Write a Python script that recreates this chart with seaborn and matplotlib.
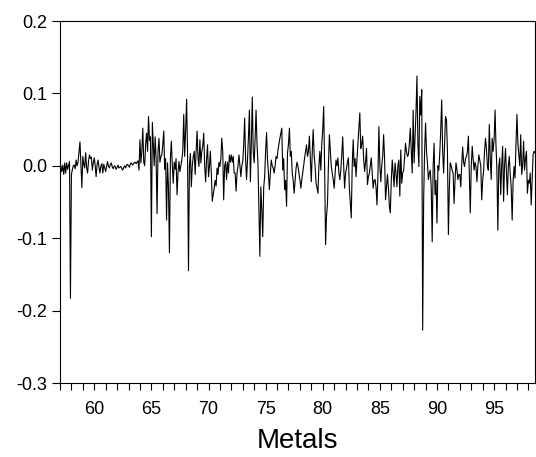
import matplotlib
matplotlib.use("Agg")
import matplotlib.pyplot as plt
import matplotlib.dates as mdates
import numpy as np
import pandas as pd
import seaborn as sns

# monthly metals returns (1957M01 onwards)
metals_57_59 = [
    -0.022, 0.0, -0.008, 0.001, -0.012, 0.004, -0.01, 0.004, -0.005, 0.0, 0.006, -0.183,
    -0.012, -0.005, 0.0, 0.001, -0.004, 0.008, 0.0, 0.005, 0.02, 0.033, 0.0, -0.03,
    0.013, 0.002, -0.003, 0.018, -0.002, -0.01, 0.006, 0.015, 0.01, 0.012, -0.006, 0.004,
]
metals_60s = [
    0.011, 0.0, -0.015, 0.002, 0.008, -0.002, -0.01, 0.0, 0.003, -0.01, 0.002, -0.003,
    -0.008, 0.0, 0.006, -0.001, -0.003, 0.002, 0.004, -0.002, -0.004, 0.0, -0.001, -0.005,
    -0.002, 0.001, -0.003, -0.002, -0.001, -0.004, -0.006, -0.002, 0.0, -0.003, 0.001, 0.002,
    0.0, -0.002, 0.003, 0.004, 0.001, 0.002, 0.004, 0.005, 0.003, 0.005, 0.007, -0.006,
    0.036, 0.004, 0.02, 0.052, 0.005, 0.0, 0.03, 0.045, 0.02, 0.068, 0.035, 0.04,
    -0.098, 0.06, 0.03, 0.0, 0.04, 0.01, -0.066, 0.02, 0.038, 0.005, 0.013, 0.015,
    0.03, 0.048, -0.005, 0.01, -0.075, 0.004, -0.03, -0.12, 0.01, 0.034, 0.0, -0.024,
    0.005, -0.005, 0.01, -0.04, -0.01, 0.006, -0.008, 0.0, 0.008, 0.02, 0.071, 0.013,
    0.05, 0.092, 0.02, -0.145, 0.0, 0.017, -0.029, 0.0, 0.013, 0.02, -0.012, 0.02,
    0.048, 0.01, -0.001, 0.036, 0.004, 0.02, 0.027, 0.045, 0.0, -0.022, 0.01, 0.029,
]
metals_70s = [
    -0.015, 0.0, 0.02, -0.01, -0.049, -0.04, -0.031, -0.02, -0.028, -0.003, -0.012, 0.005,
    -0.001, 0.01, 0.038, 0.02, -0.047, 0.0, 0.006, -0.019, 0.005, -0.01, 0.015, 0.005,
    0.015, 0.005, 0.013, -0.01, -0.01, -0.035, -0.01, 0.0, 0.015, 0.0, -0.015, 0.0,
    0.006, 0.03, 0.066, 0.01, -0.019, 0.008, 0.04, 0.077, -0.022, 0.03, 0.095, 0.02,
    0.004, 0.04, 0.077, 0.03, 0.004, -0.06, -0.125, -0.029, -0.06, -0.098, -0.03, -0.015,
    0.02, 0.046, 0.01, -0.01, -0.033, -0.01, 0.008, 0.0, -0.003, -0.01, 0.0, 0.013,
    0.01, 0.022, 0.03, 0.038, 0.045, 0.052, -0.006, 0.01, -0.033, -0.02, -0.056, 0.018,
    0.03, 0.052, 0.013, 0.02, -0.01, -0.02, -0.038, -0.02, -0.003, 0.005, -0.001, -0.01,
    -0.019, -0.031, -0.02, -0.01, 0.0, 0.011, 0.02, 0.029, 0.013, 0.02, 0.041, 0.01,
    -0.022, 0.02, 0.05, 0.015, 0.0, -0.024, -0.03, -0.038, 0.0, 0.02, -0.006, 0.03,
]
metals_80s = [
    0.05, 0.082, 0.0, -0.109, -0.07, -0.052, 0.0, 0.043, 0.02, -0.001, -0.01, -0.019,
    -0.031, -0.01, 0.008, 0.0, 0.011, -0.01, -0.019, -0.006, 0.015, 0.04, 0.0, -0.031,
    -0.01, -0.003, 0.005, 0.011, -0.03, -0.052, -0.072, 0.0, 0.036, -0.001, 0.01, -0.015,
    0.01, 0.031, 0.05, 0.073, 0.024, 0.03, 0.041, 0.01, -0.008, 0.005, 0.024, -0.026,
    -0.015, -0.01, 0.0, 0.011, -0.01, -0.031, -0.02, -0.019, -0.03, -0.054, -0.01, 0.054,
    0.0, -0.022, 0.0, 0.013, 0.043, 0.01, -0.047, -0.03, -0.012, -0.03, -0.056, -0.065,
    -0.02, 0.008, -0.01, -0.029, 0.004, -0.01, -0.029, 0.0, 0.008, -0.042, 0.022, -0.024,
    -0.01, -0.006, 0.01, 0.031, 0.02, 0.013, 0.015, 0.03, 0.052, 0.02, -0.01, 0.077,
    0.004, 0.04, 0.075, 0.124, 0.03, -0.001, 0.096, 0.07, 0.105, -0.227, -0.047, 0.02,
    0.059, 0.02, 0.004, -0.019, -0.01, -0.006, -0.03, -0.105, 0.0, 0.031, -0.04, -0.02,
]
metals_90s = [
    -0.079, 0.0, -0.006, 0.018, 0.05, 0.091, 0.02, -0.01, 0.03, 0.068, 0.064, 0.02,
    -0.095, -0.03, 0.004, 0.0, -0.006, -0.01, -0.052, -0.02, 0.004, -0.005, -0.019, -0.012,
    -0.012, -0.029, 0.0, 0.026, 0.005, -0.001, 0.01, 0.013, 0.02, 0.041, -0.01, -0.065,
    0.0, 0.027, 0.01, -0.006, 0.005, -0.001, -0.022, 0.0, 0.015, 0.008, 0.0, -0.047,
    -0.02, -0.006, 0.02, 0.038, 0.024, 0.0, -0.006, 0.057, 0.01, -0.019, 0.038, 0.02,
    0.036, 0.077, 0.03, -0.006, -0.089, 0.0, 0.011, -0.04, 0.0, 0.027, -0.049, 0.0,
    0.024, -0.01, -0.04, 0.0, 0.013, -0.012, -0.03, -0.075, -0.02, -0.001, -0.017, 0.03,
    0.071, 0.03, 0.015, 0.0, 0.043, -0.012, 0.0, 0.034, -0.006, 0.01, 0.02, -0.038,
    -0.02, -0.024, -0.01, -0.054, -0.02, 0.015, 0.02, 0.018,
]

values = metals_57_59 + metals_60s + metals_70s + metals_80s + metals_90s
dates = pd.date_range("1957-01-01", periods=len(values), freq="MS")
df = pd.DataFrame({"date": dates, "Metals": values})

sns.set_theme(style="ticks")
plt.rcParams["font.family"] = ["Liberation Sans", "DejaVu Sans"]
plt.rcParams["axes.unicode_minus"] = False

fig = plt.figure(figsize=(5.36, 4.57), dpi=100)
ax = fig.add_axes([60 / 536, 1 - 383 / 457, 475 / 536, 362 / 457])

sns.lineplot(data=df, x="date", y="Metals", color="black", linewidth=0.8, ax=ax)

ax.set_xlim(dates[0], dates[-1])
ax.set_ylim(-0.3, 0.2)
ax.set_yticks([-0.3, -0.2, -0.1, 0.0, 0.1, 0.2])
ax.yaxis.set_major_formatter(matplotlib.ticker.FormatStrFormatter("%.1f"))
ax.xaxis.set_major_locator(mdates.YearLocator(5))
ax.xaxis.set_minor_locator(mdates.YearLocator(1))
ax.xaxis.set_major_formatter(mdates.DateFormatter("%y"))

ax.tick_params(axis="y", which="major", labelsize=13, length=6, width=0.8,
               color="black", labelcolor="black", direction="out", pad=3)
ax.tick_params(axis="x", which="major", labelsize=13, length=5, width=0.8,
               color="black", labelcolor="black", direction="out", pad=8)
ax.tick_params(axis="x", which="minor", length=5, width=0.8, color="black", direction="out")
for s in ax.spines.values():
    s.set_color("black")
    s.set_linewidth(0.8)

ax.set_ylabel("")
ax.set_xlabel("Metals", fontsize=20, color="black", labelpad=7)

fig.savefig("out.png", dpi=100)
